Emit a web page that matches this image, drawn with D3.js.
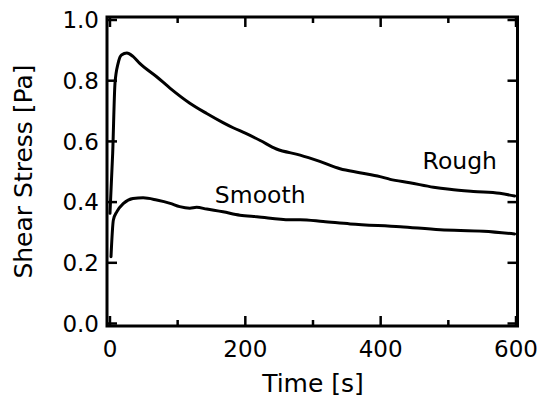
<!DOCTYPE html>
<html><head><meta charset="utf-8">
<script src="https://cdn.jsdelivr.net/npm/d3@7"></script>
<style>html,body{margin:0;padding:0;background:#fff;}</style>
</head><body>
<svg id="c" width="540" height="400"></svg>
<script>
const roughTime  = [0, 4, 7.4, 12, 17, 25, 34, 44, 69, 89, 118, 143, 167, 182, 200, 222, 246, 281, 310, 340, 369, 399, 414, 443, 478, 502, 537, 576, 598];
const roughValue = [0.363, 0.561, 0.791, 0.857, 0.885, 0.891, 0.880, 0.857, 0.813, 0.775, 0.726, 0.692, 0.662, 0.645, 0.627, 0.603, 0.575, 0.555, 0.534, 0.510, 0.497, 0.484, 0.475, 0.464, 0.449, 0.442, 0.435, 0.429, 0.420];
const smoothTime  = [1.5, 5, 10, 20, 34, 49, 69, 89, 103, 118, 128, 143, 167, 192, 217, 266, 281, 315, 355, 429, 488, 552, 598];
const smoothValue = [0.220, 0.341, 0.368, 0.396, 0.412, 0.414, 0.407, 0.396, 0.385, 0.380, 0.383, 0.377, 0.368, 0.357, 0.352, 0.342, 0.342, 0.336, 0.328, 0.319, 0.309, 0.304, 0.295];
const xTicks = [0, 200, 400, 600];
const xMinorTicks = [100, 300, 500];
const yTicks = [0.0, 0.2, 0.4, 0.6, 0.8, 1.0];
const labelText = ["Smooth", "Rough"];
const labelTime = [155, 462];
const labelValue = [0.397, 0.509];

const svg = d3.select("#c");
const L = 107, R = 517.5, T = 17, B = 326;
const x = d3.scaleLinear().domain([-4.4, 602.2]).range([L, R]);
const y = d3.scaleLinear().domain([-0.0082, 1.0099]).range([B, T]);
const font = "DejaVu Sans, Verdana, sans-serif";

// series lines
const line = d3.line().x(d => x(d[0])).y(d => y(d[1])).curve(d3.curveMonotoneX);
const series = [d3.zip(roughTime, roughValue), d3.zip(smoothTime, smoothValue)];
svg.selectAll("path.s").data(series).enter().append("path")
  .attr("class", "s").attr("d", line)
  .attr("fill", "none").attr("stroke", "#000").attr("stroke-width", 3)
  .attr("stroke-linejoin", "round").attr("stroke-linecap", "round");

// ticks
const g = svg.append("g").attr("stroke", "#000").attr("stroke-width", 2.5);
xTicks.forEach(t => {
  g.append("line").attr("x1", x(t)).attr("x2", x(t)).attr("y1", B).attr("y2", B - 10);
  g.append("line").attr("x1", x(t)).attr("x2", x(t)).attr("y1", T).attr("y2", T + 10);
});
xMinorTicks.forEach(t => {
  g.append("line").attr("x1", x(t)).attr("x2", x(t)).attr("y1", B).attr("y2", B - 6);
  g.append("line").attr("x1", x(t)).attr("x2", x(t)).attr("y1", T).attr("y2", T + 6);
});
yTicks.forEach(v => {
  g.append("line").attr("x1", L).attr("x2", L + 10).attr("y1", y(v)).attr("y2", y(v));
  g.append("line").attr("x1", R).attr("x2", R - 10).attr("y1", y(v)).attr("y2", y(v));
});

// frame
svg.append("rect").attr("x", L).attr("y", T).attr("width", R - L).attr("height", B - T)
  .attr("fill", "none").attr("stroke", "#000").attr("stroke-width", 3);

// tick labels
svg.selectAll("text.xt").data(xTicks).enter().append("text")
  .attr("x", d => x(d)).attr("y", 357).attr("text-anchor", "middle")
  .attr("font-family", font).attr("font-size", 23).text(d => d3.format("d")(d));
svg.selectAll("text.yt").data(yTicks).enter().append("text")
  .attr("x", 99).attr("y", d => y(d)).attr("dy", "0.36em").attr("text-anchor", "end")
  .attr("font-family", font).attr("font-size", 23).text(d => d3.format(".1f")(d));

// axis titles
svg.append("text").attr("x", (x(0) + x(600)) / 2).attr("y", 392).attr("text-anchor", "middle")
  .attr("font-family", font).attr("font-size", 25).text("Time [s]");
svg.append("text").attr("transform", "translate(32," + ((T + B) / 2) + ") rotate(-90)")
  .attr("text-anchor", "middle").attr("font-family", font).attr("font-size", 25).text("Shear Stress [Pa]");

// annotations
svg.selectAll("text.ann").data(labelText).enter().append("text")
  .attr("x", (d, i) => x(labelTime[i])).attr("y", (d, i) => y(labelValue[i]))
  .attr("font-family", font).attr("font-size", 23.5).text(d => d);
</script>
</body></html>
